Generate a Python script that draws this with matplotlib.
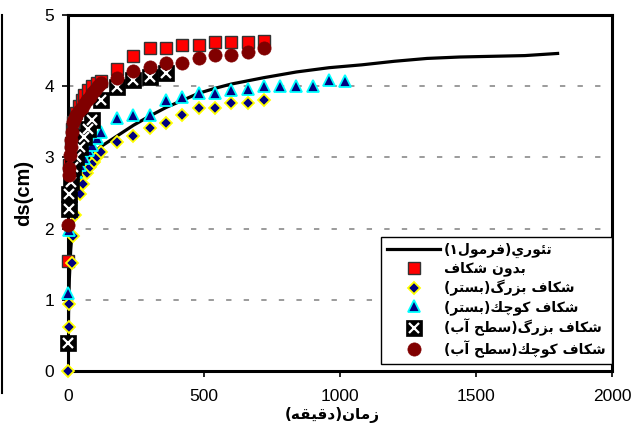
import matplotlib
matplotlib.use("Agg")
import matplotlib.pyplot as plt
from matplotlib.lines import Line2D

# --- data (time in minutes, ds in cm) ---
t_theory = [0, 2, 5, 10, 20, 30, 45, 60, 90, 120, 180, 240, 300, 360, 420, 480,
            540, 600, 720, 840, 960, 1080, 1200, 1320, 1440, 1560, 1680, 1800]
ds_theory = [0.0, 0.8, 1.3, 1.7, 2.2, 2.45, 2.7, 2.85, 3.05, 3.15, 3.3, 3.45, 3.58,
             3.7, 3.8, 3.9, 3.97, 4.03, 4.12, 4.2, 4.26, 4.3, 4.35, 4.39, 4.41,
             4.42, 4.43, 4.46]

t_nocrack = [0, 5, 10, 15, 20, 30, 40, 50, 60, 75, 90, 105, 120, 180, 240, 300,
             360, 420, 480, 540, 600, 660, 720]
ds_nocrack = [1.55, 2.9, 3.2, 3.4, 3.5, 3.62, 3.72, 3.8, 3.87, 3.95, 4.0, 4.05,
              4.07, 4.24, 4.42, 4.53, 4.53, 4.58, 4.58, 4.62, 4.62, 4.62, 4.64]

t_big_bed = [0, 2, 5, 15, 20, 25, 45, 55, 70, 80, 95, 105, 120, 180, 240, 300,
             360, 420, 480, 540, 600, 660, 720]
ds_big_bed = [0.0, 0.62, 0.94, 1.51, 1.9, 2.19, 2.49, 2.63, 2.78, 2.86, 2.93, 3.0,
              3.08, 3.21, 3.3, 3.41, 3.49, 3.6, 3.69, 3.69, 3.76, 3.76, 3.81]

t_small_bed = [1, 5, 10, 20, 30, 45, 60, 75, 90, 105, 120, 180, 240, 300, 360,
               420, 480, 540, 600, 660, 720, 780, 840, 900, 960, 1020]
ds_small_bed = [1.09, 1.98, 2.4, 2.7, 2.8, 2.89, 2.99, 3.1, 3.17, 3.27, 3.36, 3.55,
                3.6, 3.6, 3.81, 3.85, 3.91, 3.91, 3.95, 3.96, 4.0, 4.0, 4.0, 4.0,
                4.09, 4.08]

t_big_water = [1, 3, 5, 10, 20, 30, 45, 60, 75, 90, 120, 180, 240, 300, 360]
ds_big_water = [0.39, 2.28, 2.49, 2.65, 2.87, 3.0, 3.15, 3.28, 3.4, 3.52, 3.8,
                3.99, 4.09, 4.13, 4.18]

t_small_water = [0, 2, 5, 8, 10, 12, 15, 20, 25, 30, 40, 50, 60, 70, 80, 90, 100,
                 110, 120, 180, 240, 300, 360, 420, 480, 540, 600, 660, 720]
ds_small_water = [2.05, 2.75, 2.85, 3.03, 3.15, 3.25, 3.35, 3.5, 3.55, 3.6, 3.65,
                  3.7, 3.75, 3.8, 3.85, 3.9, 3.95, 4.0, 4.04, 4.11, 4.22, 4.27,
                  4.33, 4.33, 4.39, 4.44, 4.44, 4.48, 4.53]

labels = ["تئوري(فرمول١)", "بدون شكاف", "شكاف بزرگ(بستر)", "شكاف كوچك(بستر)",
          "شكاف بزرگ(سطح آب)", "شكاف كوچك(سطح آب)"]
xlabel = "زمان(دقيقه)"
ylabel = "ds(cm)"
x_ticks = [0, 500, 1000, 1500, 2000]
y_ticks = [0, 1, 2, 3, 4, 5]

# matplotlib has no Arabic shaping, so pick contextual forms by hand
# (isolated, final, initial, medial); right-joining letters have no initial/medial
FORMS = {
    "ا": ("\ufe8d", "\ufe8e", None, None),
    "آ": ("\ufe81", "\ufe82", None, None),
    "د": ("\ufea9", "\ufeaa", None, None),
    "ر": ("\ufead", "\ufeae", None, None),
    "ز": ("\ufeaf", "\ufeb0", None, None),
    "و": ("\ufeed", "\ufeee", None, None),
    "ب": ("\ufe8f", "\ufe90", "\ufe91", "\ufe92"),
    "ت": ("\ufe95", "\ufe96", "\ufe97", "\ufe98"),
    "ئ": ("\ufe89", "\ufe8a", "\ufe8b", "\ufe8c"),
    "ح": ("\ufea1", "\ufea2", "\ufea3", "\ufea4"),
    "س": ("\ufeb1", "\ufeb2", "\ufeb3", "\ufeb4"),
    "ش": ("\ufeb5", "\ufeb6", "\ufeb7", "\ufeb8"),
    "ط": ("\ufec1", "\ufec2", "\ufec3", "\ufec4"),
    "ف": ("\ufed1", "\ufed2", "\ufed3", "\ufed4"),
    "ق": ("\ufed5", "\ufed6", "\ufed7", "\ufed8"),
    "ك": ("\ufed9", "\ufeda", "\ufedb", "\ufedc"),
    "ل": ("\ufedd", "\ufede", "\ufedf", "\ufee0"),
    "م": ("\ufee1", "\ufee2", "\ufee3", "\ufee4"),
    "ن": ("\ufee5", "\ufee6", "\ufee7", "\ufee8"),
    "ه": ("\ufee9", "\ufeea", "\ufeeb", "\ufeec"),
    "ي": ("\ufef1", "\ufef2", "\ufef3", "\ufef4"),
    "چ": ("\ufb7a", "\ufb7b", "\ufb7c", "\ufb7d"),
    "گ": ("\ufb92", "\ufb93", "\ufb94", "\ufb95"),
}
MIRROR = {"(": ")", ")": "("}


def shape_fa(text):
    out = []
    for i, ch in enumerate(text):
        if ch not in FORMS:
            out.append(MIRROR.get(ch, ch))
            continue
        prev = text[i - 1] if i > 0 else ""
        nxt = text[i + 1] if i + 1 < len(text) else ""
        iso, fin, ini, med = FORMS[ch]
        join_prev = prev in FORMS and FORMS[prev][2] is not None
        join_next = ini is not None and nxt in FORMS
        if join_prev and join_next:
            out.append(med)
        elif join_prev:
            out.append(fin)
        elif join_next:
            out.append(ini)
        else:
            out.append(iso)
    return "".join(reversed(out))


fa_font = {"family": ["DejaVu Sans"], "weight": "bold"}

fig = plt.figure(figsize=(6.44, 4.28), dpi=100)
ax = fig.add_axes([68 / 644, 57 / 428, 544 / 644, 356 / 428])

l0, = ax.plot(t_theory, ds_theory, color="black", lw=2.3, zorder=2)
l1, = ax.plot(t_nocrack, ds_nocrack, ls="none", marker="s", ms=8.8,
              mfc="#ff0000", mec="#333333", mew=1.0, clip_on=False, zorder=3)
l2, = ax.plot(t_big_bed, ds_big_bed, ls="none", marker="D", ms=6.3,
              mfc="#000080", mec="#ffff00", mew=1.3, clip_on=False, zorder=4)
l3, = ax.plot(t_small_bed, ds_small_bed, ls="none", marker="^", ms=8,
              mfc="#000080", mec="#00ffff", mew=1.3, clip_on=False, zorder=5)
l4a, = ax.plot(t_big_water, ds_big_water, ls="none", marker="s", ms=11,
               mfc="black", mec="black", mew=0.5, clip_on=False, zorder=6)
l4b, = ax.plot(t_big_water, ds_big_water, ls="none", marker="x", ms=7.5,
               mec="white", mew=1.6, clip_on=False, zorder=6.1)
l5, = ax.plot(t_small_water, ds_small_water, ls="none", marker="o", ms=9.5,
              mfc="#800000", mec="#800000", mew=0.5, clip_on=False, zorder=7)

ax.set_xlim(0, 2000)
ax.set_ylim(0, 5)
ax.set_xticks(x_ticks)
ax.set_yticks(y_ticks)
ax.tick_params(axis="both", direction="out", length=4, width=1.2, labelsize=12.5)
ax.tick_params(axis="x", pad=9)
ax.tick_params(axis="y", pad=6)
for lab in ax.get_xticklabels() + ax.get_yticklabels():
    lab.set_fontfamily("Liberation Sans")

for sp in ax.spines.values():
    sp.set_linewidth(2.2)
    sp.set_color("black")

ax.yaxis.grid(True, color="#808080", lw=1.1, dashes=(3.5, 8))
ax.set_axisbelow(True)

ax.set_ylabel(ylabel, fontsize=14.5, fontweight="bold", family="Liberation Sans")
ax.yaxis.set_label_coords(-0.064, 0.5)
ax.set_xlabel(shape_fa(xlabel), fontsize=11, **fa_font)
ax.xaxis.set_label_coords(0.485, -0.1)

leg = ax.legend([l0, l1, l2, l3, (l4a, l4b), l5], [shape_fa(s) for s in labels],
                loc="lower right", bbox_to_anchor=(1.0, 0.02),
                prop={"family": ["DejaVu Sans"], "weight": "bold", "size": 10},
                frameon=True, fancybox=False, framealpha=1, edgecolor="black",
                handlelength=3.8, handletextpad=0.3, labelspacing=0.27,
                borderpad=0.45, borderaxespad=0)
leg.get_frame().set_linewidth(1.0)
leg.set_zorder(10)

# border of the original chart area at the far left
fig.add_artist(Line2D([1.5 / 644, 1.5 / 644], [1 - 15 / 428, 1 - 393 / 428],
                      color="black", lw=1.5))

fig.savefig("out.png", dpi=100)
